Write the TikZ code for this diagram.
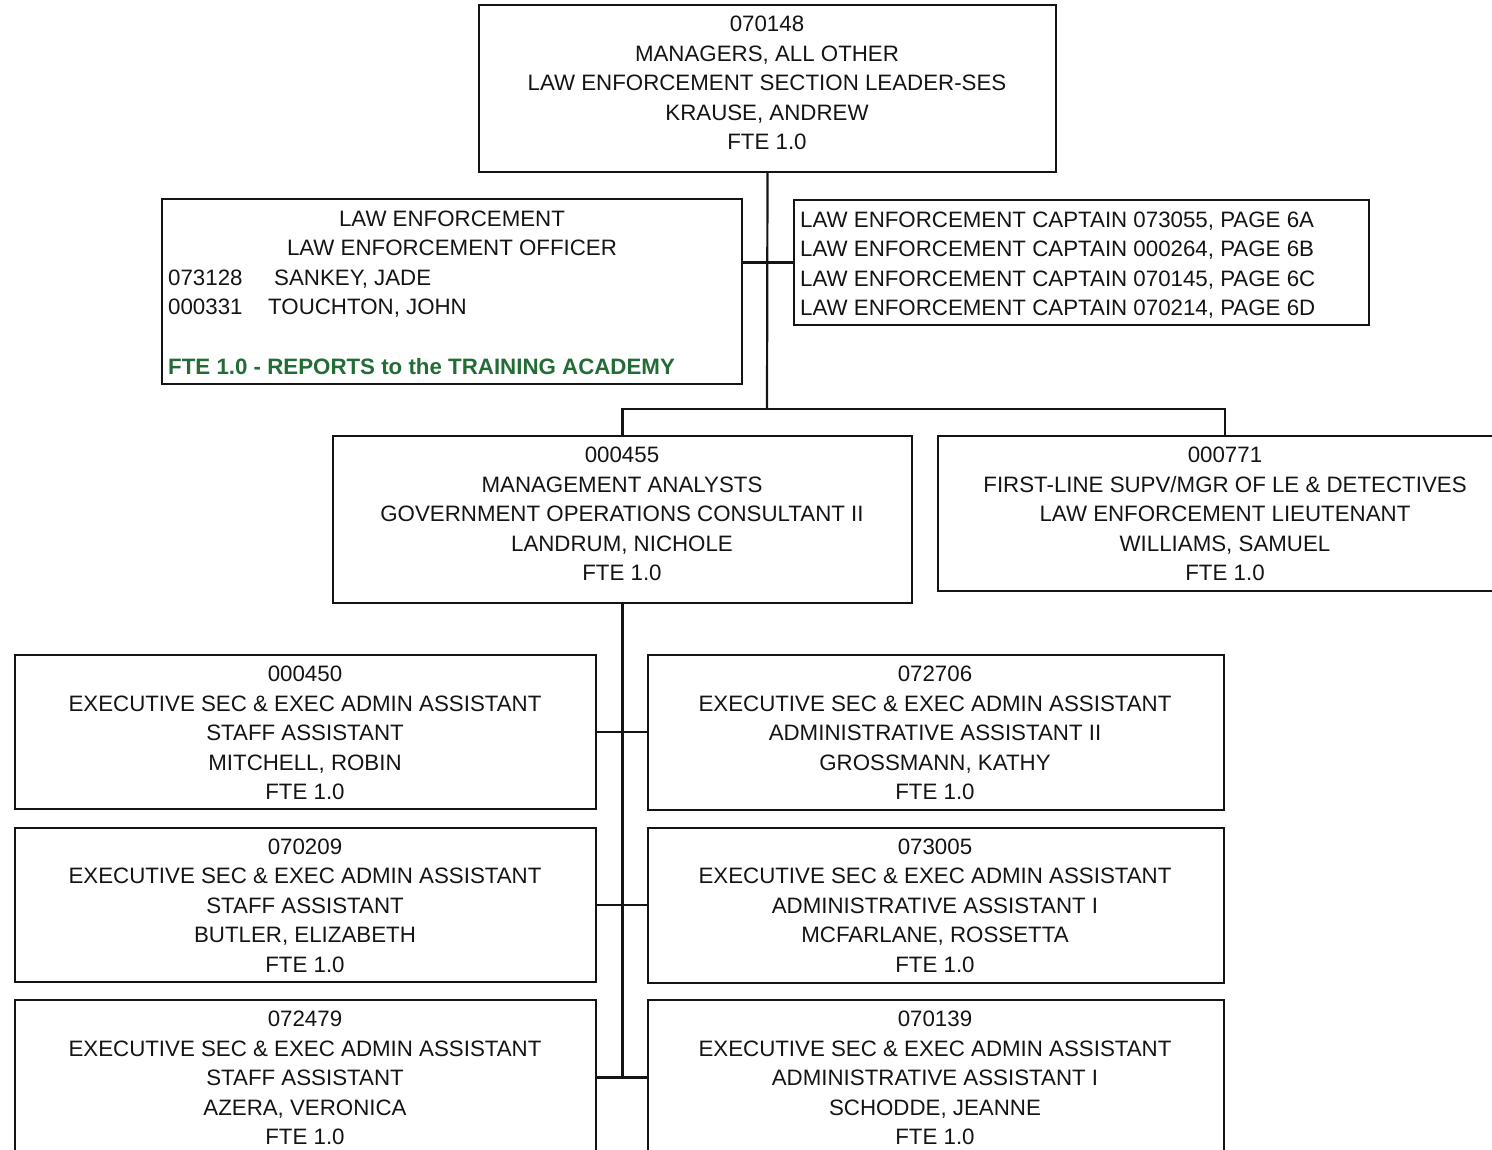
\documentclass[tikz,border=0pt]{standalone}
\usepackage{fontspec}
\setmainfont{Liberation Sans}
\usetikzlibrary{fit}
\definecolor{academygreen}{RGB}{36,108,54}
\definecolor{ink}{RGB}{20,20,20}
\newcommand\chartfont{\fontsize{22.3}{29.5}\selectfont}
\begin{document}
\begin{tikzpicture}[x=1pt,y=-1pt,
  box/.style={draw=ink, line width=2pt, inner sep=0pt, outer sep=0pt},
  txt/.style={align=center, inner sep=0pt, text=ink, font=\chartfont},
  ltxt/.style={align=left, inner sep=0pt, text=ink, font=\chartfont, anchor=west},
  one/.style={inner sep=0pt, text=ink, font=\chartfont, text height=16pt, text depth=0pt, anchor=west},
  wire/.style={draw=ink, line width=2.2pt}]

\path[use as bounding box, clip] (0,0) rectangle (1492,1150);

% ---- boxes ----
\node[box, fit={(479,5) (1056,172)}] (top) {};
\node[box, fit={(162,199) (742,384)}] (leo) {};
\node[box, fit={(794,200) (1369,325)}] (capt) {};
\node[box, fit={(333,436) (912,603)}] (gov) {};
\node[box, fit={(938,436) (1512,591)}] (lt) {};
\node[box, fit={(15,655) (596,809)}] (s1) {};
\node[box, fit={(15,828) (596,982)}] (s2) {};
\node[box, fit={(15,1000) (596,1155)}] (s3) {};
\node[box, fit={(648,655) (1224,810)}] (a1) {};
\node[box, fit={(648,828) (1224,983)}] (a2) {};
\node[box, fit={(648,1000) (1224,1155)}] (a3) {};

% ---- texts ----
\node[txt] (top-t) at (767,83) {070148\\MANAGERS, ALL OTHER\\LAW ENFORCEMENT SECTION LEADER-SES\\KRAUSE, ANDREW\\FTE 1.0};

\node[txt, text height=16pt, text depth=0pt] (leo-t1) at (452,219) {LAW ENFORCEMENT};
\node[txt, text height=16pt, text depth=0pt] (leo-t2) at (452,248) {LAW ENFORCEMENT OFFICER};
\node[one] (leo-n1) at (168,278) {073128};
\node[one] (leo-p1) at (274,278) {SANKEY, JADE};
\node[one] (leo-n2) at (168,307) {000331};
\node[one] (leo-p2) at (268,307) {TOUCHTON, JOHN};
\node[one, text=academygreen, font=\chartfont\bfseries] (leo-fte) at (168,366) {FTE 1.0 - REPORTS to the TRAINING ACADEMY};

\node[ltxt] (capt-t) at (800,265) {LAW ENFORCEMENT CAPTAIN 073055, PAGE 6A\\LAW ENFORCEMENT CAPTAIN 000264, PAGE 6B\\LAW ENFORCEMENT CAPTAIN 070145, PAGE 6C\\LAW ENFORCEMENT CAPTAIN 070214, PAGE 6D};

\node[txt] (gov-t) at (622,514) {000455\\MANAGEMENT ANALYSTS\\GOVERNMENT OPERATIONS CONSULTANT II\\LANDRUM, NICHOLE\\FTE 1.0};
\node[txt] (lt-t) at (1225,514) {000771\\FIRST-LINE SUPV/MGR OF LE \& DETECTIVES\\LAW ENFORCEMENT LIEUTENANT\\WILLIAMS, SAMUEL\\FTE 1.0};

\node[txt] (s1-t) at (305,733) {000450\\EXECUTIVE SEC \& EXEC ADMIN ASSISTANT\\STAFF ASSISTANT\\MITCHELL, ROBIN\\FTE 1.0};
\node[txt] (s2-t) at (305,905.5) {070209\\EXECUTIVE SEC \& EXEC ADMIN ASSISTANT\\STAFF ASSISTANT\\BUTLER, ELIZABETH\\FTE 1.0};
\node[txt] (s3-t) at (305,1078) {072479\\EXECUTIVE SEC \& EXEC ADMIN ASSISTANT\\STAFF ASSISTANT\\AZERA, VERONICA\\FTE 1.0};

\node[txt] (a1-t) at (935,733) {072706\\EXECUTIVE SEC \& EXEC ADMIN ASSISTANT\\ADMINISTRATIVE ASSISTANT II\\GROSSMANN, KATHY\\FTE 1.0};
\node[txt] (a2-t) at (935,905.5) {073005\\EXECUTIVE SEC \& EXEC ADMIN ASSISTANT\\ADMINISTRATIVE ASSISTANT I\\MCFARLANE, ROSSETTA\\FTE 1.0};
\node[txt] (a3-t) at (935,1078) {070139\\EXECUTIVE SEC \& EXEC ADMIN ASSISTANT\\ADMINISTRATIVE ASSISTANT I\\SCHODDE, JEANNE\\FTE 1.0};

% ---- connectors ----
\coordinate (bus) at (767,409);
\draw[wire] (top.south) -- (bus);
\draw[wire] (capt.west) -- (capt.west -| leo.east);
\draw[wire] (gov.north) |- (bus) -| (lt.north);
\draw[wire] (gov.south) -- (gov.south |- s3.east);
\draw[wire] (s1.east) -- (s1.east -| a1.west);
\draw[wire] (s2.east) -- (s2.east -| a2.west);
\draw[wire] (s3.east) -- (s3.east -| a3.west);
\end{tikzpicture}
\end{document}
